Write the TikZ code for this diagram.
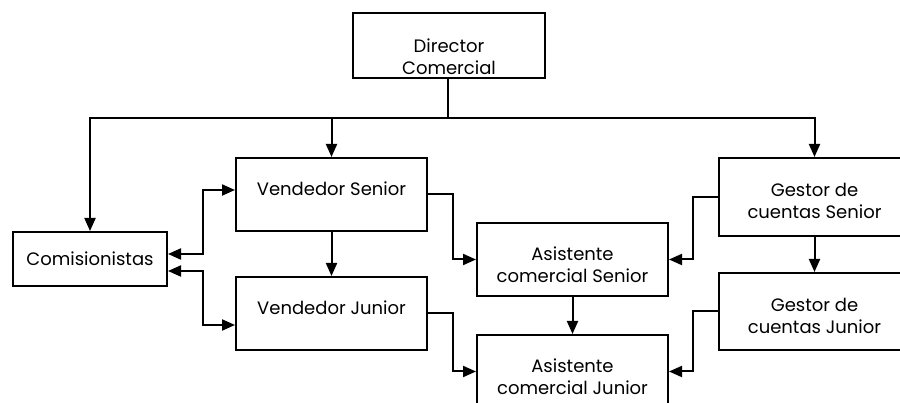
\documentclass[tikz,border=0pt]{standalone}
\usepackage{fontspec}
\setmainfont{Poppins}
\usetikzlibrary{arrows.meta}
\begin{document}
\begin{tikzpicture}[x=1pt,y=-1pt,
  box/.style={draw,line width=2pt,rectangle,inner sep=0pt,minimum width=191pt,minimum height=73pt},
  txt/.style={align=center,font=\fontsize{18}{22}\selectfont,inner sep=0pt},
  ln/.style={line width=2pt},
  arr/.style={ln,-{Triangle[length=13pt,width=11pt]}},
  arrb/.style={ln,{Triangle[length=13pt,width=11pt]}-{Triangle[length=13pt,width=11pt]}}]
\useasboundingbox (0,0) rectangle (900,403);
\clip (0,0) rectangle (900,403);
% boxes
\node[box,minimum width=192pt,minimum height=65pt] (dir) at (449,45.5) {};
\node[box,minimum width=154pt,minimum height=54pt] (com) at (90,259) {};
\node[box] (vs) at (331.5,194.5) {};
\node[box] (vj) at (331.5,313.5) {};
\node[box] (as) at (572.5,259.5) {};
\node[box] (aj) at (572.5,371.5) {};
\node[box,minimum height=78pt] (gs) at (814.5,197) {};
\node[box,minimum height=77pt] (gj) at (814.5,311.5) {};
% texts
\node[txt] (tdir) at (449,57) {Director\\Comercial};
\node[txt] (tcom) at (90,259) {Comisionistas};
\node[txt] (tvs) at (331.5,189) {Vendedor Senior};
\node[txt] (tvj) at (331.5,308) {Vendedor Junior};
\node[txt] (tas) at (572.5,265) {Asistente\\comercial Senior};
\node[txt] (taj) at (572.5,377) {Asistente\\comercial Junior};
\node[txt] (tgs) at (814.5,201) {Gestor de\\cuentas Senior};
\node[txt] (tgj) at (814.5,316) {Gestor de\\cuentas Junior};
% bus
\coordinate (bus) at (448,118);
\draw[ln] (dir.south -| bus) -- (bus);
\draw[arr] (bus) -| (com.north);
\draw[arr] (bus) -| (gs.north);
\draw[arr] (vs.north |- bus) -- (vs.north);
% comisionistas links
\draw[arrb] ([yshift=5pt]com.east) -- ++(35,0) |- ([yshift=4.5pt]vs.west);
\draw[arrb] ([yshift=-12pt]com.east) -- ++(35,0) |- ([yshift=-11.5pt]vj.west);
% verticals
\draw[arr] (vs.south) -- (vj.north);
\draw[arr] (as.south) -- (aj.north);
\draw[arr] (gs.south) -- (gj.north);
% to assistants
\draw[arr] (vs.east) -- ++(25,0) |- (as.west);
\draw[arr] (vj.east) -- ++(25,0) |- (aj.west);
\draw[arr] (gs.west) -- ++(-25,0) |- (as.east);
\draw[arr] (gj.west) -- ++(-25,0) |- (aj.east);
\end{tikzpicture}
\end{document}
